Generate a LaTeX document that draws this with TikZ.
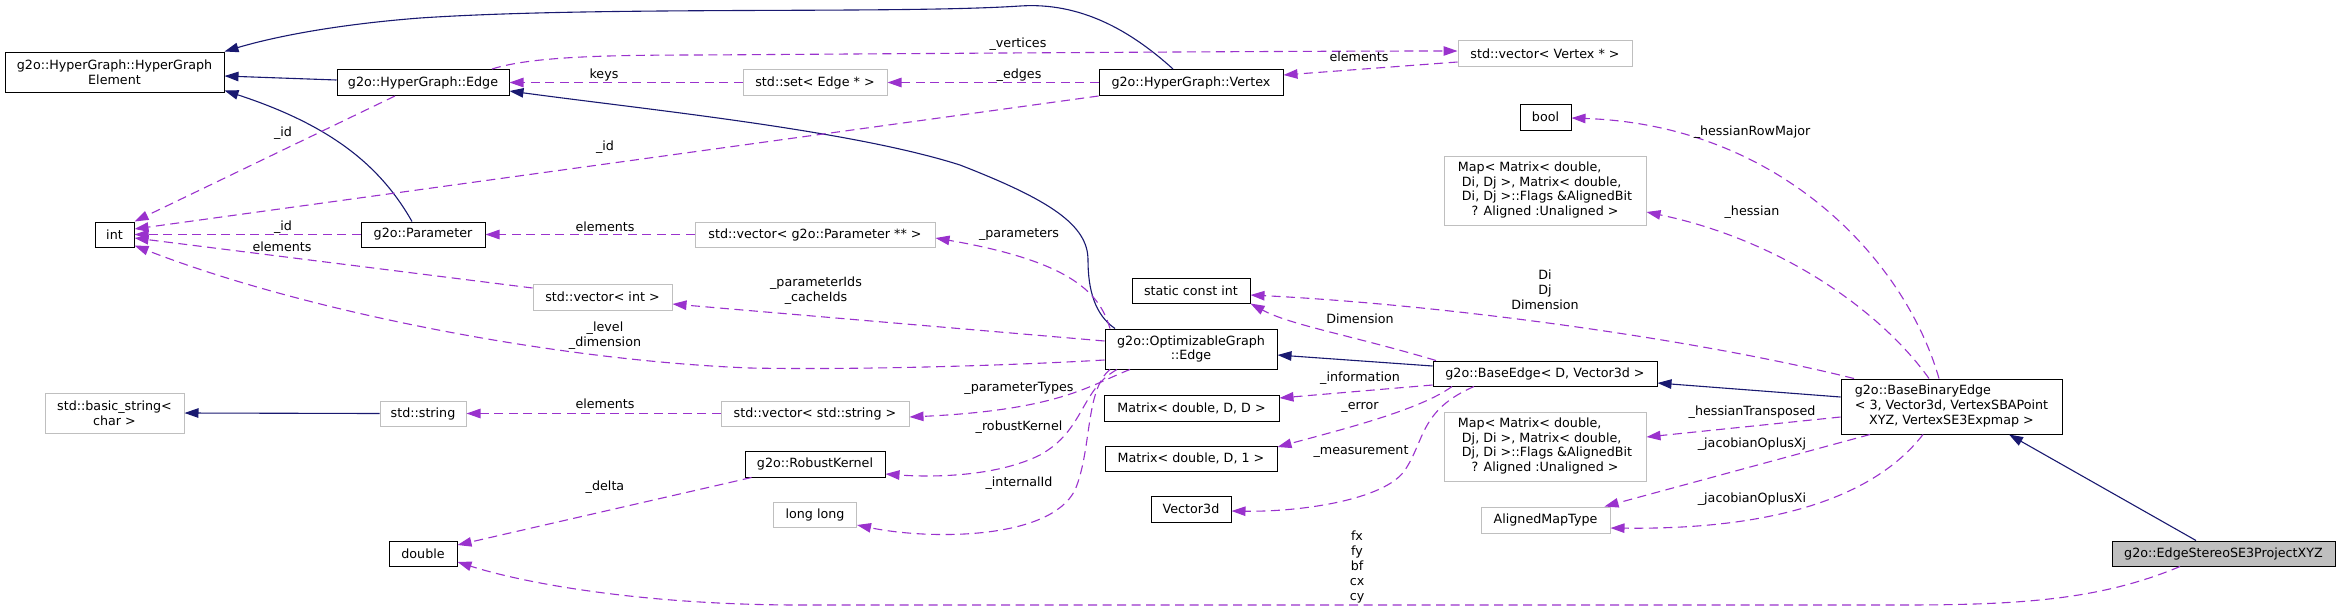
\documentclass[tikz,border=0pt]{standalone}
\usepackage{fontspec}
\setmainfont{DejaVu Sans}
\usetikzlibrary{arrows.meta}
\definecolor{navyc}{RGB}{25,25,112}
\definecolor{purpc}{RGB}{154,50,205}
\definecolor{grayb}{RGB}{191,191,191}
\newcommand\dfont{\fontsize{12.7}{14.8}\selectfont}
\newcommand\lastc[1]{\multicolumn{1}{@{}c@{}}{#1}}
\tikzset{
  cls/.style={draw=black, line width=1pt, fill=white, inner sep=0pt, font=\dfont},
  ext/.style={cls, draw=grayb},
  lbl/.style={inner sep=0pt, font=\dfont, align=center},
  inh/.style={draw=navyc, line width=1.1pt, -{Triangle[length=14pt,width=9.5pt]}},
  use/.style={draw=purpc, line width=1.1pt, dash pattern=on 9pt off 5.5pt, -{Triangle[length=14pt,width=9.5pt]}},
}
\begin{document}
\begin{tikzpicture}[x=1pt,y=-1pt]
\useasboundingbox (0,0) rectangle (2340,611);
% nodes
\node[cls, minimum width=219pt, minimum height=40pt, align=center] (hgel) at (114.5,72) {g2o::HyperGraph::HyperGraph\\Element};
\node[cls, minimum width=172pt, minimum height=26pt] (hgedge) at (423,82.5) {g2o::HyperGraph::Edge};
\node[ext, minimum width=144pt, minimum height=26pt] (sete) at (815,82.5) {std::set< Edge * >};
\node[cls, minimum width=184pt, minimum height=26pt] (vertex) at (1191,82.5) {g2o::HyperGraph::Vertex};
\node[ext, minimum width=174pt, minimum height=26pt] (vecv) at (1545,53.5) {std::vector< Vertex * >};
\node[cls, minimum width=39pt, minimum height=25pt] (int) at (114.5,234.5) {int};
\node[cls, minimum width=124pt, minimum height=25pt] (param) at (423,234.5) {g2o::Parameter};
\node[ext, minimum width=240pt, minimum height=25pt] (vecp) at (815,234.5) {std::vector< g2o::Parameter ** >};
\node[ext, minimum width=139pt, minimum height=26pt] (veci) at (602.5,297) {std::vector< int >};
\node[ext, minimum width=139pt, minimum height=40pt, align=center] (bstr) at (114.5,413) {std::basic\_string<\\char >};
\node[ext, minimum width=86pt, minimum height=25pt] (str) at (423,413.5) {std::string};
\node[ext, minimum width=188pt, minimum height=25pt] (vecs) at (815,413.5) {std::vector< std::string >};
\node[cls, minimum width=140pt, minimum height=26pt] (rk) at (815,464) {g2o::RobustKernel};
\node[ext, minimum width=83pt, minimum height=25pt] (ll) at (815,514.5) {long long};
\node[cls, minimum width=68pt, minimum height=25pt] (dbl) at (423,553.5) {double};
\node[cls, minimum width=172pt, minimum height=40pt, align=center] (oge) at (1191,349) {g2o::OptimizableGraph\\::Edge};
\node[cls, minimum width=118pt, minimum height=25pt] (sci) at (1191,290.5) {static const int};
\node[cls, minimum width=175pt, minimum height=26pt] (mdd) at (1191.5,408) {Matrix< double, D, D >};
\node[cls, minimum width=172pt, minimum height=25pt] (md1) at (1191,458.5) {Matrix< double, D, 1 >};
\node[cls, minimum width=80pt, minimum height=26pt] (v3) at (1191,509) {Vector3d};
\node[cls, minimum width=51pt, minimum height=26pt] (bool) at (1545.5,117) {bool};
\node[ext, minimum width=202pt, minimum height=69pt] (map1) at (1545,190.5) {\begin{tabular}{@{}l@{}}Map< Matrix< double,\\\hspace*{4pt}Di, Dj >, Matrix< double,\\\hspace*{4pt}Di, Dj >::Flags \&AlignedBit\\\lastc{? Aligned :Unaligned >}\end{tabular}};
\node[cls, minimum width=224pt, minimum height=25pt] (be) at (1545,373.5) {g2o::BaseEdge< D, Vector3d >};
\node[ext, minimum width=202pt, minimum height=69pt] (map2) at (1545,446.5) {\begin{tabular}{@{}l@{}}Map< Matrix< double,\\\hspace*{4pt}Dj, Di >, Matrix< double,\\\hspace*{4pt}Dj, Di >::Flags \&AlignedBit\\\lastc{? Aligned :Unaligned >}\end{tabular}};
\node[ext, minimum width=129pt, minimum height=26pt] (amt) at (1545.5,520) {AlignedMapType};
\node[cls, minimum width=221pt, minimum height=55pt] (bbe) at (1951.5,406.5) {\begin{tabular}{@{}l@{}}g2o::BaseBinaryEdge\\< 3, Vector3d, VertexSBAPoint\\\lastc{XYZ, VertexSE3Expmap >}\end{tabular}};
\node[cls, fill=grayb, minimum width=223pt, minimum height=25pt] (es) at (2223.5,553.5) {g2o::EdgeStereoSE3ProjectXYZ};
% inheritance
\draw[inh] ([yshift=2.5pt]hgedge.west) -- ([yshift=-4pt]hgel.east);
\draw[inh] ([xshift=-18pt]vertex.north) .. controls (1130,30) and (1080,2) .. (1020,6) .. controls (900,14) and (600,6) .. (420,18) .. controls (330,25) and (270,38) .. (hgel.north east);
\draw[inh] ([xshift=-11pt]param.north) .. controls (380,165) and (330,125) .. ([yshift=2pt]hgel.south east);
\draw[inh] ([xshift=-76pt]oge.north) .. controls (1095,315) and (1088,290) .. (1088,260) .. controls (1088,225) and (1050,200) .. (960,165) .. controls (850,130) and (650,110) .. ([yshift=-8.5pt]hgedge.east);
\draw[inh] ([yshift=7.5pt]be.west) -- ([yshift=-6pt]oge.east);
\draw[inh] ([yshift=9.5pt]bbe.west) -- ([yshift=-9.5pt]be.east);
\draw[inh] ([xshift=-27.5pt]es.north) -- ([xshift=57.5pt]bbe.south);
\draw[inh] (str.west) -- (bstr.east);
% usage
\draw[use] ([xshift=69pt]hgedge.north) .. controls (530,57) and (600,55) .. (700,55) .. controls (1000,53) and (1300,51) .. ([yshift=2.5pt]vecv.west);
\draw[use] ([yshift=-8.5pt]vecv.west) -- ([yshift=7.5pt]vertex.east);
\draw[use] (vertex.west) -- (sete.east);
\draw[use] (sete.west) -- (hgedge.east);
\draw[use] ([xshift=-28pt]hgedge.south) -- (int.north east);
\draw[use] (vertex.south west) -- ([yshift=5.5pt]int.east);
\draw[use] (param.west) -- (int.east);
\draw[use] (vecp.west) -- (param.east);
\draw[use] ([yshift=9pt]veci.west) -- ([yshift=-3.5pt]int.east);
\draw[use] ([yshift=-11pt]oge.west) .. controls (1000,366) and (850,370) .. (750,368) .. controls (550,360) and (300,310) .. ([yshift=2pt]int.south east);
\draw[use] ([yshift=8pt]oge.west) -- ([yshift=-7pt]veci.east);
\draw[use] ([xshift=-81pt]oge.north) .. controls (1100,295) and (1075,262) .. ([yshift=-3.5pt]vecp.east);
\draw[use] ([xshift=-61pt]oge.south) .. controls (1090,385) and (1060,410) .. ([yshift=-3.5pt]vecs.east);
\draw[use] ([xshift=-74pt]oge.south) .. controls (1080,390) and (1085,430) .. (1040,455) .. controls (1000,475) and (940,478) .. ([yshift=-10pt]rk.east);
\draw[use] ([xshift=-81pt]oge.south) .. controls (1085,390) and (1092,450) .. (1075,490) .. controls (1050,540) and (930,540) .. ([yshift=-10.5pt]ll.east);
\draw[use] ([yshift=-11.5pt]be.west) -- ([yshift=10pt]mdd.east);
\draw[use] ([xshift=-93pt]be.south) .. controls (1420,410) and (1340,430) .. ([yshift=11.5pt]md1.east);
\draw[use] ([xshift=-71pt]be.south) .. controls (1420,410) and (1425,440) .. (1405,470) .. controls (1385,500) and (1300,512) .. ([yshift=-2pt]v3.east);
\draw[use] ([xshift=-109pt]be.north) .. controls (1350,335) and (1290,325) .. (sci.south east);
\draw[use] ([xshift=-97.5pt]bbe.north) .. controls (1700,340) and (1450,305) .. ([yshift=-4.5pt]sci.east);
\draw[use] ([xshift=-12.5pt]bbe.north) .. controls (1905,260) and (1780,125) .. ([yshift=-1pt]bool.east);
\draw[use] ([xshift=-22.5pt]bbe.north) .. controls (1880,310) and (1780,240) .. ([yshift=-21.5pt]map1.east);
\draw[use] ([yshift=-10.5pt]bbe.west) -- ([yshift=9.5pt]map2.east);
\draw[use] ([xshift=-81.5pt]bbe.south) -- ([xshift=-6pt]amt.north east);
\draw[use] ([xshift=-28.5pt]bbe.south) .. controls (1880,490) and (1790,530) .. ([yshift=-8pt]amt.east);
\draw[use] ([xshift=-43.5pt]es.south) .. controls (2100,600) and (2020,605) .. (1900,605) -- (800,605) .. controls (650,605) and (530,585) .. ([yshift=-8.5pt]dbl.east);
\draw[use] ([xshift=7pt]rk.south west) -- ([yshift=8.5pt]dbl.east);
\draw[use] (vecs.west) -- (str.east);
% labels
\node[lbl] (lvert) at (1018,44) {\_vertices};
\node[lbl] (lvelem) at (1359,57) {elements};
\node[lbl] (ledges) at (1019,75) {\_edges};
\node[lbl] (lkeys) at (604,75) {keys};
\node[lbl] (lida) at (283,133) {\_id};
\node[lbl] (lidb) at (605,147) {\_id};
\node[lbl] (lidc) at (283,227) {\_id};
\node[lbl] (lpelem) at (605,227) {elements};
\node[lbl] (lielem) at (282,247) {elements};
\node[lbl] (llevel) at (605,336) {\_level\\\_dimension};
\node[lbl] (lpids) at (816,291) {\_parameterIds\\\_cacheIds};
\node[lbl] (lparams) at (1019,235) {\_parameters};
\node[lbl] (lptypes) at (1019,388) {\_parameterTypes};
\node[lbl] (lrk) at (1019,427) {\_robustKernel};
\node[lbl] (liid) at (1019,483) {\_internalId};
\node[lbl] (linfo) at (1360,378) {\_information};
\node[lbl] (lerr) at (1360,407) {\_error};
\node[lbl] (lmeas) at (1361,452) {\_measurement};
\node[lbl] (ldim) at (1360,319) {Dimension};
\node[lbl] (ldidj) at (1545,290) {Di\\Dj\\Dimension};
\node[lbl] (lhrm) at (1752,132) {\_hessianRowMajor};
\node[lbl] (lhess) at (1752,212) {\_hessian};
\node[lbl] (lht) at (1752,412) {\_hessianTransposed};
\node[lbl] (ljxj) at (1752,444) {\_jacobianOplusXj};
\node[lbl] (ljxi) at (1752,499) {\_jacobianOplusXi};
\node[lbl] (lfx) at (1357,567) {fx\\fy\\bf\\cx\\cy};
\node[lbl] (ldelta) at (605,487) {\_delta};
\node[lbl] (lselem) at (605,404) {elements};
\end{tikzpicture}
\end{document}
